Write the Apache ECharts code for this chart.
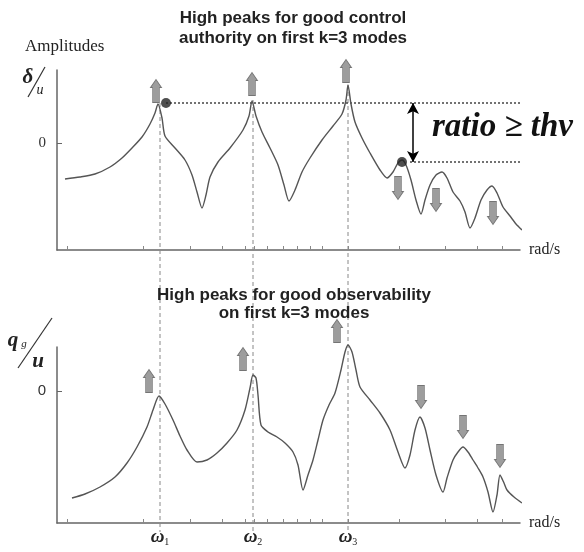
<!DOCTYPE html>
<html><head><meta charset="utf-8">
<script src="https://cdn.jsdelivr.net/npm/echarts@6/dist/echarts.min.js"></script>
<style>html,body{margin:0;padding:0;background:#fff}#c{width:584px;height:552px}</style>
</head><body><div id="c"></div>
<script>
// ---- data (schematic frequency units / amplitude units) ----
const xTicks = [1.0, 8.6, 13.3, 16.5, 18.8, 19.7, 21.0, 22.6, 24.0, 25.3, 26.5, 29.1, 34.2, 38.8, 42.0, 44.5];
const omegaX = [10.3, 19.6, 29.1];
const omegaSub = ['1', '2', '3'];
const yZeroTick = [0];

const topCurve = [
 [0.8,-3.6],[2.3,-3.4],[3.8,-3.1],[5.3,-2.4],[6.5,-1.5],[7.5,-0.5],[8.5,0.6],[9.3,1.9],[9.8,3.0],[10.1,3.9],
 [10.5,2.5],[10.8,0.7],[11.8,-0.5],[12.8,-1.7],[13.5,-3.2],[14.0,-4.9],[14.5,-6.5],[14.9,-5.2],[15.3,-3.4],
 [16.1,-1.9],[17.3,-0.5],[18.6,1.3],[19.2,2.7],[19.5,4.2],[19.9,2.7],[20.5,1.1],[21.3,-0.5],[22.1,-2.2],
 [22.7,-4.2],[23.2,-5.8],[23.8,-4.7],[24.5,-2.9],[25.3,-1.5],[26.5,0.3],[27.6,1.7],[28.5,2.9],[28.9,4.3],
 [29.1,5.8],[29.4,3.9],[29.8,2.1],[30.5,0.5],[31.3,-1.0],[32.3,-2.7],[33.0,-3.5],[33.6,-2.9],[34.1,-2.0],
 [34.5,-1.7],[34.9,-2.2],[35.4,-3.7],[35.9,-5.7],[36.4,-7.1],[36.8,-5.7],[37.3,-4.2],[37.9,-3.2],[38.5,-2.9],
 [39.0,-3.5],[39.6,-4.9],[40.3,-5.8],[40.8,-6.9],[41.3,-8.5],[41.8,-7.5],[42.4,-5.7],[43.0,-4.7],[43.5,-4.3],
 [44.0,-5.0],[44.6,-6.4],[45.3,-7.3],[45.9,-8.1],[46.5,-8.7]
];
const bottomCurve = [
 [1.5,-10.7],[2.8,-10.3],[4.3,-9.6],[5.8,-8.6],[7.0,-7.2],[8.0,-5.6],[9.0,-3.6],[9.6,-1.9],[10.2,-0.5],
 [10.8,-1.3],[11.6,-2.9],[12.3,-4.5],[13.0,-5.9],[14.0,-7.1],[15.0,-6.9],[16.0,-6.2],[17.0,-5.2],[18.0,-3.9],
 [18.8,-1.9],[19.3,0.3],[19.6,1.6],[19.9,1.3],[20.1,-0.4],[20.4,-3.4],[21.1,-4.1],[22.0,-4.6],[22.8,-5.2],
 [23.6,-6.1],[24.1,-7.4],[24.6,-9.9],[25.1,-8.4],[25.6,-6.9],[26.1,-4.9],[26.6,-2.9],[27.2,-1.4],[27.8,-0.2],
 [28.4,2.1],[28.8,3.9],[29.1,4.6],[29.5,3.9],[29.9,2.1],[30.3,0.4],[31.3,-0.9],[32.3,-2.2],[33.3,-3.9],
 [34.1,-6.1],[34.8,-7.7],[35.3,-6.4],[35.8,-3.9],[36.3,-2.6],[36.8,-3.7],[37.3,-5.9],[37.9,-8.4],[38.6,-10.1],
 [39.0,-8.7],[39.6,-6.9],[40.1,-6.1],[40.6,-5.6],[41.1,-6.1],[41.6,-6.9],[42.1,-7.7],[42.6,-8.6],[43.1,-10.1],
 [43.6,-12.1],[44.0,-10.4],[44.3,-8.4],[44.7,-9.2],[45.0,-9.9],[45.7,-10.6],[46.5,-11.2]
];
const topUpArrows = [[9.9,5.2],[19.5,5.9],[28.9,7.2]];
const topDownArrows = [[34.1,-4.5],[37.9,-5.7],[43.6,-7.0]];
const botUpArrows = [[9.2,1.0],[18.6,3.2],[28.0,6.0]];
const botDownArrows = [[36.4,-0.6],[40.6,-3.6],[44.3,-6.5]];
const peakTops = [4.0, 4.3, 5.8];
const dashBottom = -38.9;
const ratioDots = [[10.9,4.0],[34.5,-1.9]];
const ratioLevels = [4.0, -1.9];
const ratioLineStart = [10.9, 35.3];
const ratioLineEnd = 46.3;
const ratioArrowX = 35.6;

// ---- chart ----
const SERIF = 'Liberation Serif';
const SANS = 'Liberation Sans';
const arrowPath = 'path://M5.5,0 L11,8 L9,8 L9,23 L2,23 L2,8 L0,8 Z';
const chart = echarts.init(document.getElementById('c'));

function xAxisCfg(idx, withLabels) {
  return {
    type: 'value', gridIndex: idx, min: 0, max: 46.3,
    name: 'rad/s', nameLocation: 'end', nameGap: 9,
    nameTextStyle: {fontFamily: SERIF, fontSize: 16, color: '#222', verticalAlign: 'middle', padding: [0,0,6,0]},
    axisLine: {onZero: false, lineStyle: {color: '#666', width: 1.5}},
    axisTick: {show: true, inside: true, length: 4, customValues: xTicks, lineStyle: {color: '#888', width: 1}},
    axisLabel: withLabels ? {
      show: true, customValues: omegaX, margin: 5,
      formatter: v => { const i = omegaX.indexOf(v); return '{w|ω}{s|' + (i >= 0 ? omegaSub[i] : '') + '}'; },
      rich: {
        w: {fontFamily: SERIF, fontStyle: 'italic', fontWeight: 'bold', fontSize: 19, color: '#222'},
        s: {fontFamily: SERIF, fontSize: 10, color: '#222', padding: [9,0,0,0]}
      }
    } : {show: false},
    splitLine: {show: false}
  };
}
function yAxisCfg(idx, min, max, font) {
  return {
    type: 'value', gridIndex: idx, min: min, max: max,
    axisLine: {show: true, onZero: false, lineStyle: {color: '#666', width: 1.5}},
    axisTick: {show: true, inside: true, length: 5, customValues: yZeroTick, lineStyle: {color: '#666'}},
    axisLabel: {show: true, customValues: yZeroTick, margin: 11, fontFamily: font, fontSize: 15, color: '#333'},
    splitLine: {show: false}
  };
}
function arrowSeries(data, xi, rot) {
  return {
    type: 'scatter', xAxisIndex: xi, yAxisIndex: xi, data: data, clip: false, silent: true,
    symbol: arrowPath, symbolSize: [11, 23], symbolRotate: rot,
    itemStyle: {color: '#858585', borderColor: '#5e5e5e', borderWidth: 0.8}, z: 5
  };
}

const series = [
  {type: 'line', xAxisIndex: 0, yAxisIndex: 0, data: topCurve, smooth: 0.25, showSymbol: false, clip: false,
   lineStyle: {color: '#555', width: 1.4}, silent: true, z: 3},
  {type: 'line', xAxisIndex: 1, yAxisIndex: 1, data: bottomCurve, smooth: 0.25, showSymbol: false, clip: false,
   lineStyle: {color: '#555', width: 1.4}, silent: true, z: 3}
];
omegaX.forEach((x, i) => {
  series.push({type: 'line', xAxisIndex: 0, yAxisIndex: 0, data: [[x, peakTops[i]], [x, dashBottom]],
    showSymbol: false, clip: false, silent: true, lineStyle: {color: '#888', width: 1, type: [4, 3]}, z: 2});
});
ratioLevels.forEach((y, i) => {
  series.push({type: 'line', xAxisIndex: 0, yAxisIndex: 0, data: [[ratioLineStart[i], y], [ratioLineEnd, y]],
    showSymbol: false, clip: false, silent: true, lineStyle: {color: '#444', width: 1.5, type: [2, 2]}, z: 2,
    markLine: i === 0 ? {
      silent: true, symbol: ['arrow', 'arrow'], symbolSize: [9, 11], label: {show: false},
      lineStyle: {type: 'solid', color: '#000', width: 1.5},
      data: [[{coord: [ratioArrowX, ratioLevels[0]]}, {coord: [ratioArrowX, ratioLevels[1]]}]]
    } : undefined});
});
series.push({type: 'scatter', xAxisIndex: 0, yAxisIndex: 0, data: ratioDots, symbolSize: 10, clip: false,
  itemStyle: {color: '#222'}, silent: true, z: 6});
series.push(arrowSeries(topUpArrows, 0, 0));
series.push(arrowSeries(topDownArrows, 0, 180));
series.push(arrowSeries(botUpArrows, 1, 0));
series.push(arrowSeries(botDownArrows, 1, 180));

chart.setOption({
  animation: false,
  backgroundColor: '#fff',
  title: [
    {text: 'High peaks for good control\nauthority on first k=3 modes', left: 288, top: 3, textAlign: 'center',
     textStyle: {fontFamily: SANS, fontWeight: 'bold', fontSize: 17, lineHeight: 20, color: '#222'}},
    {text: 'High peaks for good observability\non first k=3 modes', left: 289, top: 281, textAlign: 'center',
     textStyle: {fontFamily: SANS, fontWeight: 'bold', fontSize: 17, lineHeight: 18, color: '#222'}}
  ],
  grid: [
    {left: 57, right: 64, top: 70, height: 180},
    {left: 57, right: 64, top: 347, height: 176}
  ],
  xAxis: [xAxisCfg(0, false), xAxisCfg(1, true)],
  yAxis: [yAxisCfg(0, -10.7, 7.3, SERIF), yAxisCfg(1, -13.2, 4.4, SANS)],
  series: series,
  graphic: [
    {type: 'text', left: 25, top: 38, style: {text: 'Amplitudes', font: '17px "Liberation Serif"', fill: '#222'}},
    {type: 'text', x: 28, y: 78, style: {text: 'δ', font: 'italic bold 21px "Liberation Serif"', fill: '#222', align: 'center', verticalAlign: 'middle'}},
    {type: 'line', shape: {x1: 45, y1: 67, x2: 28, y2: 97}, style: {stroke: '#333', lineWidth: 1.2}},
    {type: 'text', x: 40, y: 90, style: {text: 'u', font: 'italic 14px "Liberation Serif"', fill: '#222', align: 'center', verticalAlign: 'middle'}},
    {type: 'text', x: 13, y: 341, style: {text: 'q', font: 'italic bold 21px "Liberation Serif"', fill: '#222', align: 'center', verticalAlign: 'middle'}},
    {type: 'text', x: 24, y: 344, style: {text: 'g', font: 'italic 11px "Liberation Serif"', fill: '#222', align: 'center', verticalAlign: 'middle'}},
    {type: 'line', shape: {x1: 52, y1: 318, x2: 18, y2: 368}, style: {stroke: '#333', lineWidth: 1.2}},
    {type: 'text', x: 38, y: 362, style: {text: 'u', font: 'italic bold 21px "Liberation Serif"', fill: '#222', align: 'center', verticalAlign: 'middle'}},
    {type: 'text', x: 432, y: 127, style: {text: 'ratio ≥ thv', font: 'italic bold 33px "Liberation Serif"', fill: '#111', align: 'left', verticalAlign: 'middle'}}
  ]
});
</script></body></html>
